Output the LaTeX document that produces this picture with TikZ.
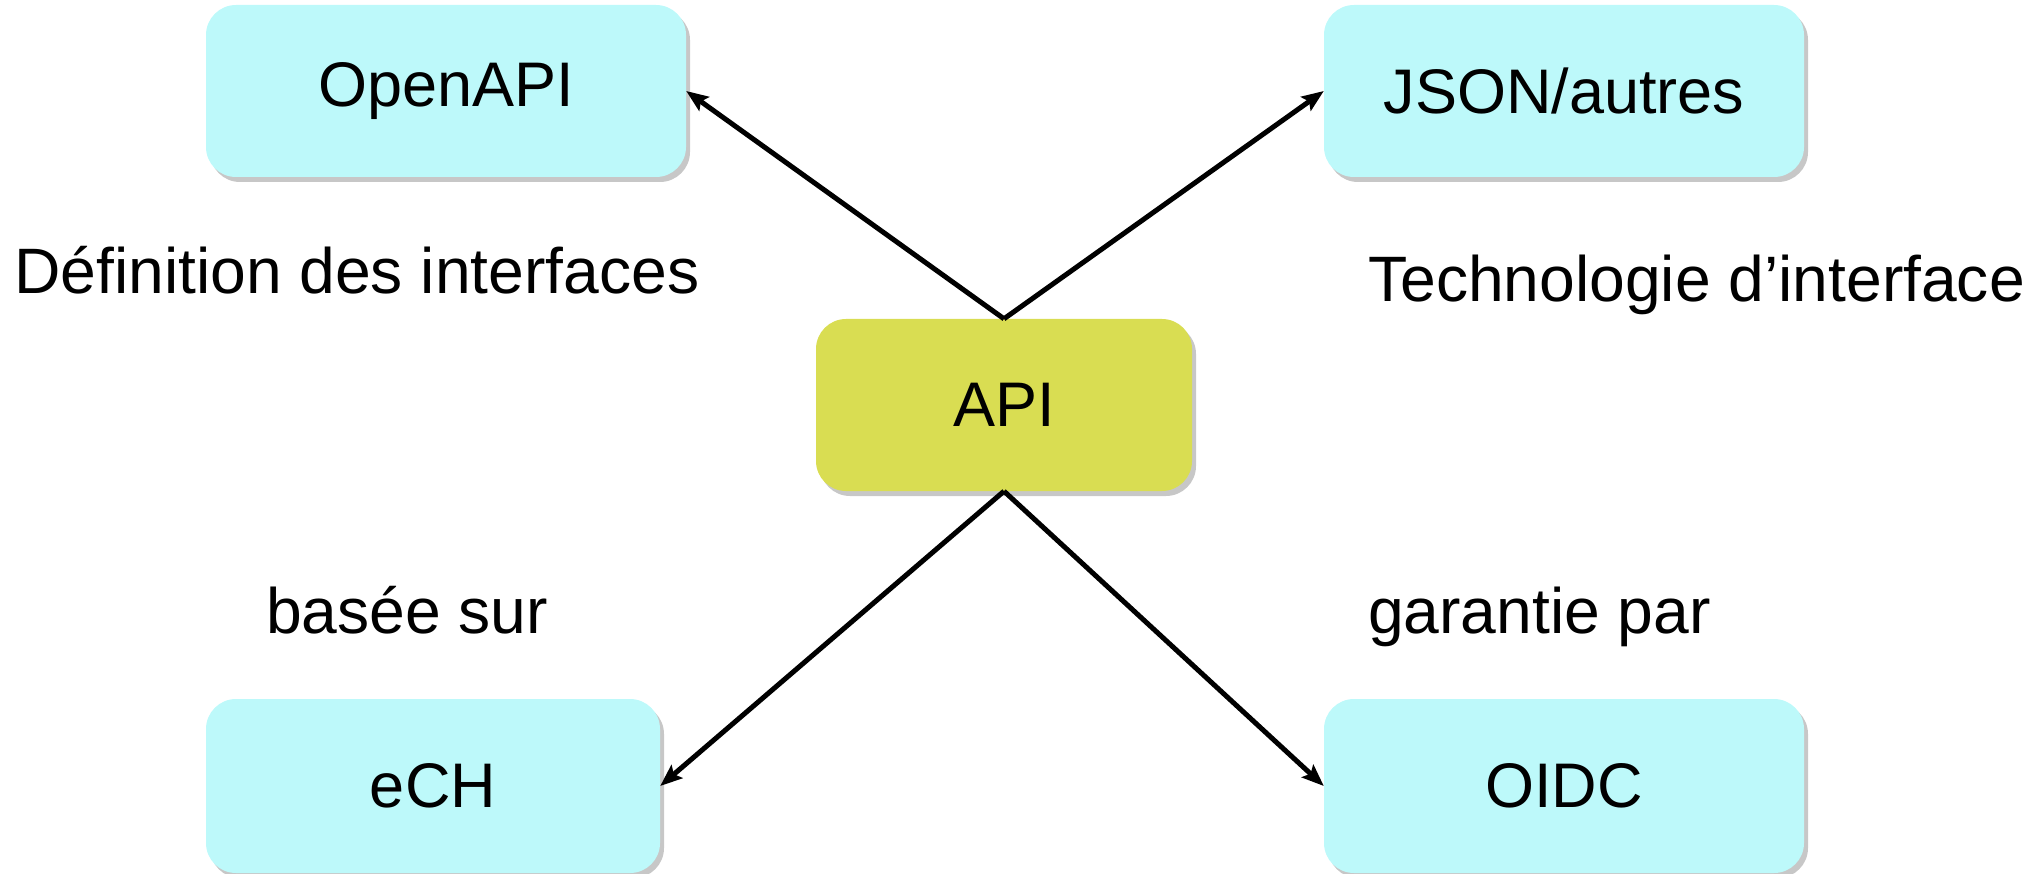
\documentclass[tikz,border=0pt]{standalone}
\usepackage{fontspec}
\setmainfont{Liberation Sans}
\usetikzlibrary{arrows.meta,shadows}
\definecolor{boxcyan}{RGB}{189,249,250}
\definecolor{boxyellow}{RGB}{217,221,82}
\begin{document}
\begin{tikzpicture}[x=1pt,y=-1pt,
  every node/.style={font=\fontsize{63}{75}\selectfont},
  box/.style={rectangle, rounded corners=30pt, fill=boxcyan, draw=none,
    inner sep=0pt, drop shadow={shadow xshift=4pt, shadow yshift=-5pt, fill=black, opacity=0.22}},
  apibox/.style={box, fill=boxyellow},
  lbl/.style={anchor=base west, inner sep=0pt, font=\fontsize{64.2}{76}\selectfont},
  arr/.style={line width=5pt, -{Stealth[length=22pt,width=17pt,inset=4pt]}}]
\useasboundingbox (0,0) rectangle (2034,874);
\node[box, minimum width=480pt, minimum height=172pt] (openapi) at (446,91) {OpenAPI};
\node[box, minimum width=480pt, minimum height=172pt] (json) at (1564,91) {JSON/autres};
\node[apibox, minimum width=376pt, minimum height=172pt] (api) at (1004,405) {API};
\node[box, minimum width=454pt, minimum height=174pt] (ech) at (433,786) {eCH};
\node[box, minimum width=480pt, minimum height=174pt] (oidc) at (1564,786) {OIDC};
\node[lbl] (l1) at (14,294) {Définition des interfaces};
\node[lbl] (l2) at (1368,302) {Technologie d’interface};
\node[lbl] (l3) at (266,633) {basée sur};
\node[lbl] (l4) at (1368,633) {garantie par};
\draw[arr] (api.north) -- (openapi.east);
\draw[arr] (api.north) -- (json.west);
\draw[arr] (api.south) -- (ech.east);
\draw[arr] (api.south) -- (oidc.west);
\end{tikzpicture}
\end{document}
